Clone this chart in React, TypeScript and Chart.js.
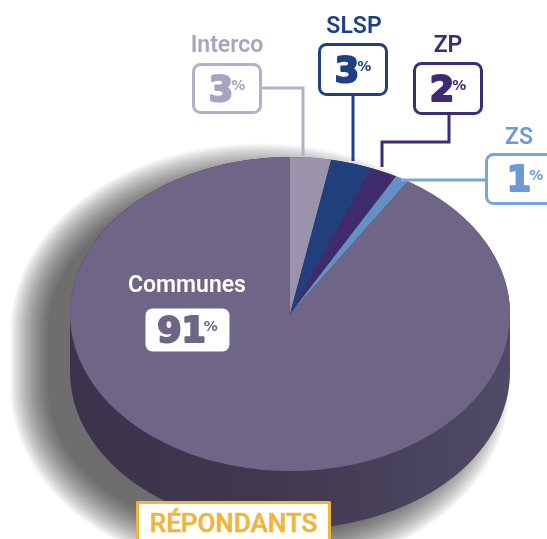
import React, { useEffect, useRef } from "react";
import { Chart, registerables } from "chart.js";

Chart.register(...registerables);

const categories = ["Interco", "SLSP", "ZP", "ZS", "Communes"];
const percentages = [3, 3, 2, 1, 91];
const sliceColors = ["#9a93ab", "#223f7d", "#3f2a6b", "#6490c5", "#6e6587"];
const labelColors = ["#aaa3c0", "#1f3f86", "#3f2a75", "#6c9bd3", "#ffffff"];
const boxBorderColors = ["#b5afca", "#1f3f86", "#3f2a75", "#78a5dc", "#ffffff"];
const footerText = "RÉPONDANTS";

// layout (screen coordinates) for label boxes & connectors
const labelLayout = [
  { title: [227, 52], box: [192, 63, 70, 51], conn: [[262, 88], [303, 88], [303, 156]] },
  { title: [354, 33], box: [318, 43, 70, 53], conn: [[353, 96], [353, 161]] },
  { title: [448, 52], box: [413, 62, 70, 53], conn: [[449, 115], [449, 142], [382, 142], [382, 167]] },
  { title: [519, 144], box: [485, 153, 80, 52], conn: [[485, 180], [401, 180]] },
  { title: [187, 292], box: [144, 307, 87, 46], conn: [] },
];

const TILT = 0.714;
const DEPTH = 58;

const pie3d = {
  id: "pie3d",
  beforeDatasetsDraw(chart: any) {
    const ctx = chart.ctx;
    const arc = chart.getDatasetMeta(0).data[0];
    const { x: cx, y: cy, outerRadius: r } = arc.getProps(["x", "y", "outerRadius"], true);
    const ry = r * TILT;
    const body = (dx: number, dy: number, grow: number) => {
      ctx.beginPath();
      ctx.ellipse(cx + dx, cy + dy + DEPTH, r + grow, ry + grow, 0, 0, Math.PI);
      ctx.lineTo(cx + dx - r - grow, cy + dy);
      ctx.ellipse(cx + dx, cy + dy, r + grow, ry + grow, 0, Math.PI, 0, false);
      ctx.closePath();
    };
    // soft shadow: stacked translucent layers
    ctx.save();
    const layers = 22;
    for (let i = layers; i >= 0; i--) {
      ctx.fillStyle = "rgba(0,0,0,0.038)";
      body(-30, 16, i * 1.7 - 8);
      ctx.fill();
    }
    ctx.restore();
    // side
    ctx.save();
    const g = ctx.createLinearGradient(cx - r, 0, cx + r, 0);
    g.addColorStop(0, "#3b334c");
    g.addColorStop(0.45, "#40384f");
    g.addColorStop(1, "#514a66");
    ctx.fillStyle = g;
    body(0, 0, 0);
    ctx.fill();
    ctx.restore();
    // tilt top face
    ctx.save();
    ctx.translate(0, cy);
    ctx.scale(1, TILT);
    ctx.translate(0, -cy);
  },
  afterDatasetsDraw(chart: any) {
    const ctx = chart.ctx;
    ctx.restore();
  },
  afterDraw(chart: any) {
    const ctx = chart.ctx;
    ctx.save();
    const drawNumber = (val: number, box: number[], color: string) => {
      const [bx, by, bw, bh] = box;
      const numFont = 'bold 35px "DejaVu Sans"';
      const pctFont = 'bold 14px "DejaVu Sans"';
      ctx.font = numFont;
      const t = String(val);
      const w1 = ctx.measureText(t).width;
      ctx.font = pctFont;
      const w2 = ctx.measureText("%").width;
      const gap = -2;
      const total = w1 + gap + w2;
      const left = bx + bw / 2 - total / 2;
      const base = by + bh / 2 + 12;
      ctx.fillStyle = color;
      ctx.strokeStyle = color;
      ctx.lineWidth = 2.2;
      ctx.lineJoin = "round";
      ctx.textAlign = "left";
      ctx.textBaseline = "alphabetic";
      ctx.font = numFont;
      ctx.fillText(t, left, base);
      ctx.strokeText(t, left, base);
      ctx.font = pctFont;
      ctx.fillText("%", left + w1 + gap, base - 11);
    };
    categories.forEach((name, i) => {
      const L = labelLayout[i];
      const isMain = i === categories.length - 1;
      if (L.conn.length) {
        ctx.beginPath();
        ctx.strokeStyle = boxBorderColors[i];
        ctx.lineWidth = 3;
        ctx.lineJoin = "miter";
        L.conn.forEach((p: number[], k: number) => (k ? ctx.lineTo(p[0], p[1]) : ctx.moveTo(p[0], p[1])));
        ctx.stroke();
      }
      const [bx, by, bw, bh] = L.box;
      ctx.beginPath();
      ctx.roundRect(bx + 1.5, by + 1.5, bw - 3, bh - 3, 7);
      ctx.fillStyle = "#ffffff";
      ctx.fill();
      if (!isMain) {
        ctx.strokeStyle = boxBorderColors[i];
        ctx.lineWidth = 3;
        ctx.stroke();
      }
      ctx.font = '600 23px Roboto, "Liberation Sans", sans-serif';
      ctx.textAlign = "center";
      ctx.textBaseline = "alphabetic";
      ctx.fillStyle = labelColors[i];
      ctx.fillText(name, L.title[0], L.title[1]);
      drawNumber(percentages[i], L.box, isMain ? sliceColors[i] : labelColors[i]);
    });
    // footer box
    ctx.fillStyle = "#ffffff";
    ctx.fillRect(137, 502, 193, 50);
    ctx.strokeStyle = "#f0b53c";
    ctx.lineWidth = 3;
    ctx.strokeRect(137.5, 502.5, 192, 50);
    ctx.font = '500 26px Roboto, "Liberation Sans", sans-serif';
    ctx.fillStyle = "#f0b53c";
    ctx.strokeStyle = "#f0b53c";
    ctx.lineWidth = 0.6;
    ctx.textAlign = "center";
    ctx.fillText(footerText, 233.5, 532);
    ctx.strokeText(footerText, 233.5, 532);
    ctx.restore();
  },
};

export default function App() {
  const ref = useRef<HTMLCanvasElement>(null);
  useEffect(() => {
    document.body.style.margin = "0";
    const chart = new Chart(ref.current!, {
      type: "pie",
      data: {
        labels: categories,
        datasets: [
          {
            data: percentages,
            backgroundColor: sliceColors,
            borderWidth: 0,
          },
        ],
      },
      options: {
        animation: false,
        responsive: false,
        events: [],
        layout: { padding: { left: 70, right: 37, top: 94, bottom: 5 } },
        plugins: { legend: { display: false }, tooltip: { enabled: false } },
      },
      plugins: [pie3d],
    });
    return () => chart.destroy();
  }, []);
  return (
    <div style={{ width: 547, height: 539, background: "#fff" }}>
      <canvas ref={ref} width={547} height={539} style={{ display: "block" }} />
    </div>
  );
}
